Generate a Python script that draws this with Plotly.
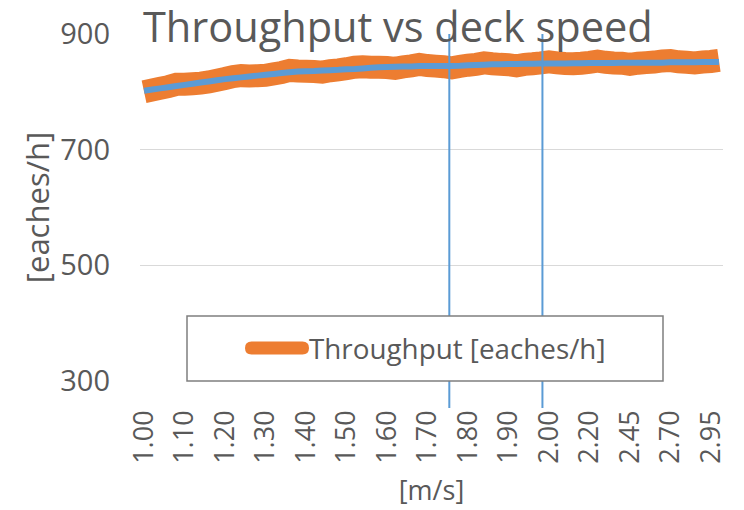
import plotly.graph_objects as go

# ---- data ----
speeds = ["1.00", "1.02", "1.04", "1.06", "1.08", "1.10", "1.12", "1.14", "1.16", "1.18",
          "1.20", "1.22", "1.24", "1.26", "1.28", "1.30", "1.32", "1.34", "1.36", "1.38",
          "1.40", "1.42", "1.44", "1.46", "1.48", "1.50", "1.52", "1.54", "1.56", "1.58",
          "1.60", "1.62", "1.64", "1.66", "1.68", "1.70", "1.72", "1.74", "1.76", "1.78",
          "1.80", "1.82", "1.84", "1.86", "1.88", "1.90", "1.92", "1.94", "1.96", "1.98",
          "2.00", "2.04", "2.08", "2.12", "2.16", "2.20", "2.25", "2.30", "2.35", "2.40",
          "2.45", "2.50", "2.55", "2.60", "2.65", "2.70", "2.75", "2.80", "2.85", "2.90",
          "2.95", "3.00"]

throughput = [800, 803, 806, 809, 813, 813, 814, 815, 817, 820,
              823, 826.5, 828, 827.5, 828, 828.5, 831, 833.5, 837, 836,
              835.5, 835, 834, 836.5, 838, 840, 842.5, 843.5, 842.5, 842.5,
              842, 840.5, 843, 845, 847.5, 845.5, 844.5, 843.5, 841.5, 844,
              846, 847.5, 850, 848.5, 847.5, 847, 845, 847.5, 848.5, 850,
              852, 850, 849, 848.5, 849.5, 851, 853, 851, 850, 849.5,
              847.5, 849.5, 850.5, 851.5, 853.5, 854, 852, 851, 850, 851.5,
              852.5, 854.5]

trend = [802, 804, 806, 808, 810, 812, 814, 816, 818, 820,
         822, 823.5, 825, 826.5, 828, 829.5, 831, 832.5, 834, 835,
         835.5, 836, 837, 837.5, 838, 839, 839.5, 840.5, 841.5, 842.5,
         843, 843.5, 844, 844, 844.5, 844.5, 844.5, 844.5, 844.5, 845,
         846, 846.5, 847, 847.5, 847.5, 848, 848, 848.5, 848.5, 849,
         849, 849, 849, 849.5, 849.5, 850, 850, 850, 850, 850.5,
         850.5, 850.5, 850.5, 850.5, 850.5, 851, 851, 851, 851, 851.5,
         851.5, 851.5]

x_tick_labels = ["1.00", "1.10", "1.20", "1.30", "1.40", "1.50", "1.60", "1.70",
                 "1.80", "1.90", "2.00", "2.20", "2.45", "2.70", "2.95"]
y_ticks = [300, 500, 700, 900]
marker_positions = [37.7, 49.2]   # category positions of the two vertical markers

series_name = "Throughput [eaches/h]"
title_text = "Throughput vs deck speed"

ORANGE = "#ED7D31"
BLUE = "#5B9BD5"
TXT = "#595959"
FONT = "Open Sans"

OFF = 8  # default page body margin offsets the figure
W, H = 744, 510
# plot area in page pixels: x 140..723, y 34..381
PX0, PX1, PY0, PY1 = 140, 723, 34, 381
L, T = PX0 - OFF, PY0 - OFF
R, B = W - (PX1 - OFF), H - (PY1 - OFF)
pw, ph = PX1 - PX0, PY1 - PY0


def px_x(p):
    return (p - PX0) / pw


def px_y(p):
    return (PY1 - p) / ph


fig = go.Figure()
fig.add_trace(go.Scatter(x=speeds, y=throughput, mode="lines", name=series_name,
                         line=dict(color=ORANGE, width=23, simplify=False),
                         showlegend=False))
fig.add_trace(go.Scatter(x=speeds, y=trend, mode="lines", name="trend",
                         line=dict(color=BLUE, width=6, simplify=False),
                         showlegend=False))

shapes = []
for m in marker_positions:
    shapes.append(dict(type="line", xref="x", yref="paper", x0=m, x1=m,
                       y0=px_y(408), y1=1.0, line=dict(color=BLUE, width=2), layer="above"))

# legend box (drawn to mimic the spreadsheet legend)
shapes.append(dict(type="rect", xref="paper", yref="paper",
                   x0=px_x(187), x1=px_x(663), y0=px_y(381), y1=px_y(316),
                   fillcolor="white", line=dict(color="#7F7F7F", width=1.5), layer="above"))
x0p, x1p, yc, r = 251.5, 302.5, 348, 6.5
path = (f"M{px_x(x0p)},{px_y(yc - r)} L{px_x(x1p)},{px_y(yc - r)} "
        f"Q{px_x(x1p + r)},{px_y(yc - r)} {px_x(x1p + r)},{px_y(yc)} "
        f"Q{px_x(x1p + r)},{px_y(yc + r)} {px_x(x1p)},{px_y(yc + r)} "
        f"L{px_x(x0p)},{px_y(yc + r)} "
        f"Q{px_x(x0p - r)},{px_y(yc + r)} {px_x(x0p - r)},{px_y(yc)} "
        f"Q{px_x(x0p - r)},{px_y(yc - r)} {px_x(x0p)},{px_y(yc - r)} Z")
shapes.append(dict(type="path", xref="paper", yref="paper", path=path,
                   fillcolor=ORANGE, line=dict(width=0), layer="above"))

annotations = [dict(xref="paper", yref="paper", x=px_x(307), y=px_y(348),
                    xanchor="left", yanchor="middle", showarrow=False,
                    text=series_name, font=dict(family=FONT, size=27.8, color=TXT))]

fig.update_layout(
    width=W, height=H,
    margin=dict(l=L, r=R, t=T, b=B, autoexpand=False),
    paper_bgcolor="white", plot_bgcolor="white",
    title=dict(text=title_text, x=(143 - OFF) / W, xanchor="left", xref="container",
               y=1 - 5 / H, yanchor="top", yref="container",
               font=dict(family=FONT, size=41.5, color=TXT)),
    shapes=shapes, annotations=annotations,
    showlegend=False,
)
fig.update_xaxes(type="category", range=[-0.5, len(speeds) - 0.5],
                 tickmode="array", tickvals=x_tick_labels, ticktext=x_tick_labels,
                 tickangle=-90, ticks="", ticklabelstandoff=23,
                 tickfont=dict(family=FONT, size=27, color=TXT),
                 showgrid=False, showline=False, zeroline=False,
                 title=dict(text="[m/s]", standoff=18,
                            font=dict(family=FONT, size=27, color=TXT)),
                 automargin=False)
fig.update_yaxes(range=[300, 900], tickmode="array", tickvals=y_ticks,
                 ticks="", ticklabelstandoff=29,
                 tickfont=dict(family=FONT, size=29, color=TXT),
                 showgrid=True, gridcolor="#D9D9D9", gridwidth=1.3,
                 showline=False, zeroline=False,
                 title=dict(text="[eaches/h]", standoff=1,
                            font=dict(family=FONT, size=31, color=TXT)),
                 automargin=False)

fig.write_html("out.html")
